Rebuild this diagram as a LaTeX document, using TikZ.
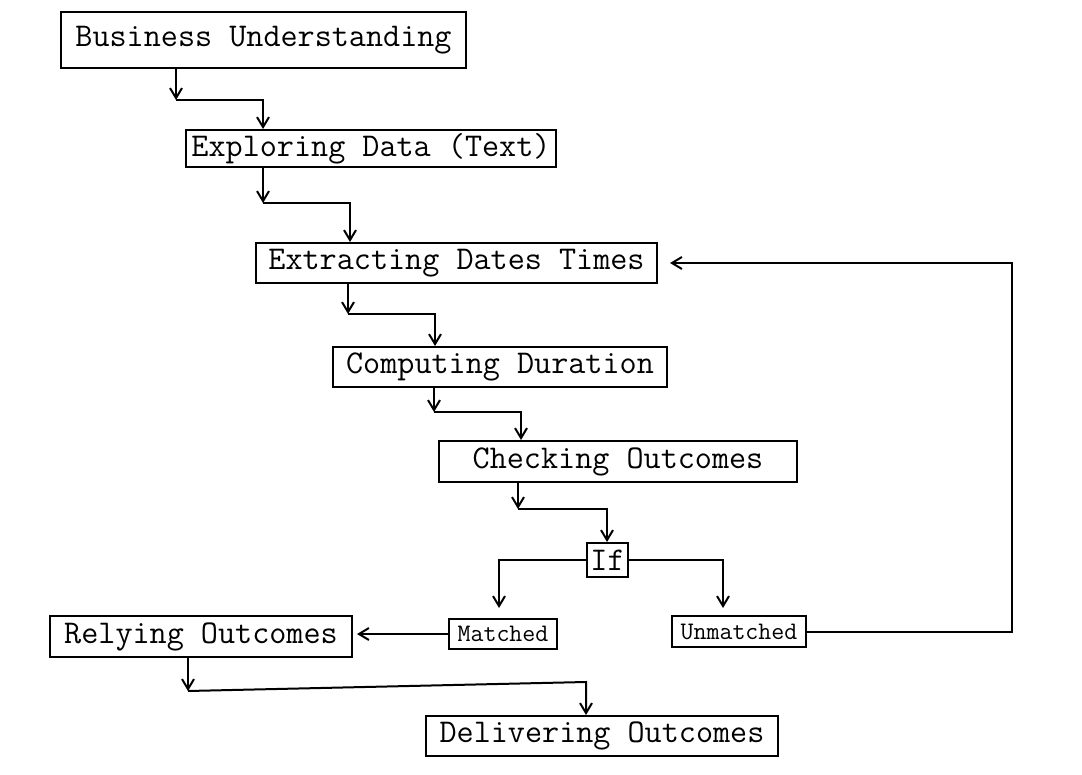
\documentclass[tikz,border=0pt]{standalone}
\usepackage{fontspec}
\usetikzlibrary{arrows.meta}
\tikzstyle{stepbox}=[draw, line width=1pt, inner sep=0pt, font=\ttfamily\fontsize{16.6}{18}\selectfont]
\tikzstyle{casebox}=[draw, line width=1pt, inner sep=0pt, font=\ttfamily\fontsize{12.6}{14}\selectfont]

\begin{document}
\begin{tikzpicture}[x=0.5pt, y=-0.5pt, line width=1pt, >={Straight Barb[length=5pt,width=6pt]}]
                    \useasboundingbox (0,0) rectangle (1082,775);
                    \node[stepbox, minimum width=202.5pt, minimum height=28pt]   (bu) at (263.5, 40)   {Business Understanding};
                    \node[stepbox, minimum width=185pt,   minimum height=18.5pt] (ed) at (371, 148.5)  {Exploring Data (Text)};
                    \node[stepbox, minimum width=200.5pt, minimum height=20pt]   (ex) at (456.5, 263)  {Extracting Dates Times};
                    \node[stepbox, minimum width=167pt,   minimum height=20pt]   (cd) at (500, 367)    {Computing Duration};
                    \node[stepbox, minimum width=179pt,   minimum height=20.5pt] (co) at (618, 461.5)  {Checking Outcomes};
                    \node[stepbox, minimum width=20.5pt,  minimum height=17pt]   (if) at (607.5, 560)  {If};
                    \node[casebox, minimum width=54pt,    minimum height=15pt]   (ma) at (503, 634)    {Matched};
                    \node[casebox, minimum width=67pt,    minimum height=15.5pt] (um) at (739, 631.5)  {Unmatched};
                    \node[stepbox, minimum width=151pt,   minimum height=20.5pt] (ro) at (201, 636.5)  {Relying Outcomes};
                    \node[stepbox, minimum width=176pt,   minimum height=20pt]   (do) at (602, 736)    {Delivering Outcomes};
                    % elbows between the steps
                    \coordinate (j1) at (176, 100);  \coordinate (k1) at (263, 100);
                    \coordinate (j2) at (263, 203);  \coordinate (k2) at (350, 203);
                    \coordinate (j3) at (348, 314);  \coordinate (k3) at (435, 314);
                    \coordinate (j4) at (434, 412);  \coordinate (k4) at (521, 412);
                    \coordinate (j5) at (518, 509);  \coordinate (k5) at (607, 509);
                    \coordinate (j6) at (188, 691);  \coordinate (k6) at (586, 682);
                    \coordinate (ml) at (499, 560);  \coordinate (ur) at (723, 560);
                    \coordinate (fb) at (1012, 631);
                    \draw[->]  (bu.south -| j1) -- (j1);
                    \draw[->]  (j1) -- (k1) -- (ed.north -| k1);
                    \draw[->]  (ed.south -| j2) -- (j2);
                    \draw[->]  (j2) -- (k2) -- (ex.north -| k2);
                    \draw[->]  (ex.south -| j3) -- (j3);
                    \draw[->]  (j3) -- (k3) -- (cd.north -| k3);
                    \draw[->]  (cd.south -| j4) -- (j4);
                    \draw[->]  (j4) -- (k4) -- (co.north -| k4);
                    \draw[->]  (co.south -| j5) -- (j5);
                    \draw[->]  (j5) -- (k5) -- (if.north -| k5);
                    \draw[->, shorten >=5pt]  (if.west) -| (ma.north -| ml);
                    \draw[->, shorten >=3.5pt]  (if.east) -| (um.north -| ur);
                    \draw[->, shorten >=2pt]  (ma.west) -- (ro.east |- ma.west);
                    \draw[->, shorten >=6pt]  (um.east) -- (um.east -| fb) |- (ex.east);
                    \draw[->]  (ro.south -| j6) -- (j6);
                    \draw[->]  (j6) -- (k6) -- (do.north -| k6);
                \end{tikzpicture}
\end{document}
